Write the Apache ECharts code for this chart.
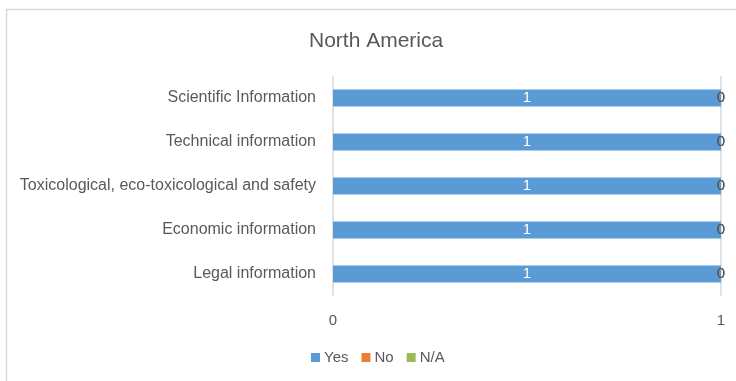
<!DOCTYPE html>
<html>
<head>
<meta charset="utf-8">
<script src="https://cdn.jsdelivr.net/npm/echarts@6/dist/echarts.min.js"></script>
<style>
  html, body { margin: 0; padding: 0; background: #fff; }
  #chart { width: 736px; height: 381px; }
</style>
</head>
<body>
<div id="chart"></div>
<script>
// Survey answers per information type (bottom to top on the axis)
const categories = [
  'Legal information',
  'Economic information',
  'Toxicological, eco-toxicological and safety',
  'Technical information',
  'Scientific Information'
];
const yesValues = [1, 1, 1, 1, 1];
const noValues = [0, 0, 0, 0, 0];
const naValues = [0, 0, 0, 0, 0];
const xTicks = [0, 1];

const textColor = '#595959';
const font = 'Liberation Sans, Arial, sans-serif';

const chart = echarts.init(document.getElementById('chart'), null, { renderer: 'canvas' });

function seriesOf(name, data, color, labelOpts) {
  return {
    name: name,
    type: 'bar',
    stack: 'total',
    data: data,
    barWidth: 17,
    itemStyle: { color: color },
    label: labelOpts,
    emphasis: { disabled: true }
  };
}

chart.setOption({
  animation: false,
  title: {
    text: 'North America',
    left: 304,
    top: 26,
    textStyle: { color: textColor, fontSize: 21, fontWeight: 'normal', fontFamily: font }
  },
  graphic: [{
    type: 'rect',
    shape: { x: 6.5, y: 9.5, width: 900, height: 600 },
    style: { fill: 'none', stroke: '#d9d9d9', lineWidth: 1.5 },
    silent: true,
    z: -1
  }],
  legend: {
    top: 345,
    left: 306,
    itemWidth: 9,
    itemHeight: 9,
    itemGap: 13,
    icon: 'rect',
    textStyle: { color: textColor, fontSize: 15, fontFamily: font, padding: [0, 0, 0, -1] },
    data: ['Yes', 'No', 'N/A']
  },
  grid: { left: 333, right: 15, top: 76, bottom: 85, containLabel: false },
  xAxis: {
    type: 'value',
    min: xTicks[0],
    max: xTicks[xTicks.length - 1],
    interval: 1,
    axisLine: { show: false },
    axisTick: { show: false },
    splitLine: { show: true, lineStyle: { color: '#d9d9d9', width: 1.5 } },
    axisLabel: { color: textColor, fontSize: 15, fontFamily: font, margin: 17 }
  },
  yAxis: {
    type: 'category',
    data: categories,
    axisLine: { show: false },
    axisTick: { show: false },
    axisLabel: { color: textColor, fontSize: 16, fontFamily: font, margin: 17 }
  },
  series: [
    seriesOf('Yes', yesValues, '#5b9bd5', {
      show: true, position: 'inside', color: '#ffffff', fontSize: 15, fontFamily: font
    }),
    seriesOf('No', noValues, '#ed7d31', {
      show: true, position: 'inside', color: textColor, fontSize: 15, fontFamily: font
    }),
    seriesOf('N/A', naValues, '#9bbb59', {
      show: true, position: 'inside', color: textColor, fontSize: 15, fontFamily: font
    })
  ]
});
</script>
</body>
</html>
